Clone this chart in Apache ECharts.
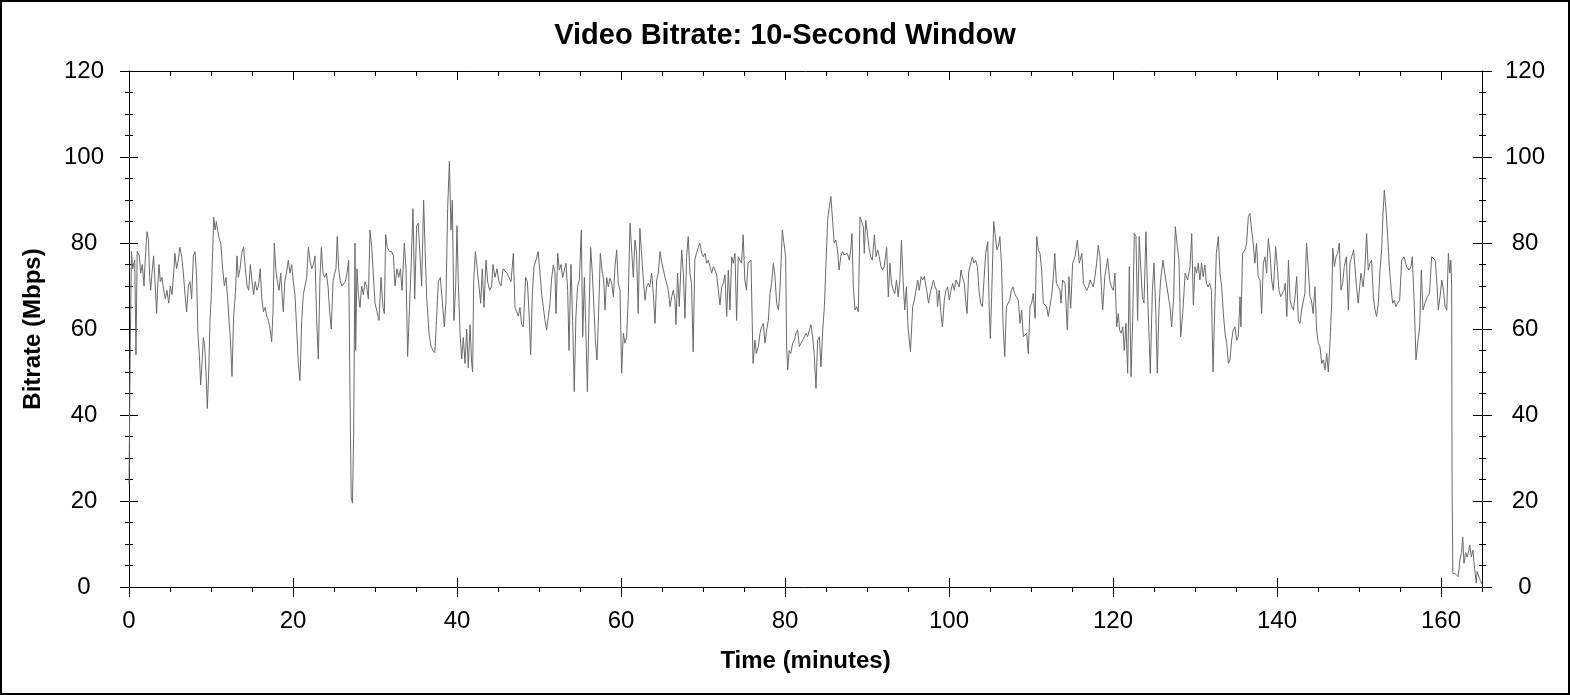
<!DOCTYPE html>
<html>
<head>
<meta charset="utf-8">
<script src="https://cdn.jsdelivr.net/npm/echarts@6.0.0/dist/echarts.min.js"></script>
<style>
html,body{margin:0;padding:0;background:#fff;}
#chart{width:1570px;height:695px;}
</style>
</head>
<body>
<div id="chart"></div>
<script>
// ---- data: [time (minutes), bitrate (Mbps)] ----
const segA = [[0,24],[0.15,55],[0.3,78],[0.45,74],[0.7,76],[0.85,54],[1.0,78],[1.26,77],[1.42,73],[1.63,75],[1.83,70],[2.03,78],[2.2,82.6],[2.36,81],[2.52,72],[2.64,69],[2.8,73],[3.0,77],[3.2,70],[3.37,63.6],[3.5,70],[3.66,75],[3.82,71],[4.02,72],[4.23,69],[4.43,67],[4.63,69],[4.84,66],[5.04,70],[5.24,68],[5.45,73],[5.6,77.6],[5.8,74],[6.0,76],[6.2,79],[6.42,77],[6.63,73],[6.83,68],[7.03,64],[7.24,70],[7.44,71],[7.64,67],[7.85,77],[8.05,78],[8.25,72],[8.4,59],[8.58,54],[8.74,47],[8.9,52],[9.07,58],[9.23,56],[9.39,50],[9.55,41.5],[9.72,50],[9.88,62],[10.04,68],[10.2,78],[10.33,86],[10.5,83],[10.65,85],[10.8,83],[11.0,81],[11.2,80],[11.42,74],[11.63,70],[11.83,72],[12.03,67],[12.2,62],[12.36,58],[12.56,49],[12.76,63],[12.97,68],[13.17,77],[13.33,72],[13.54,74],[13.78,78],[13.98,79],[14.19,74],[14.4,70],[14.6,69],[14.8,75],[15.0,71],[15.2,68],[15.4,71],[15.6,69],[15.8,70],[16.0,74],[16.2,67],[16.4,64],[16.6,65],[16.8,63],[17.0,62],[17.2,60],[17.4,57],[17.56,64],[17.72,80],[17.9,74],[18.1,71],[18.3,69],[18.5,73],[18.7,67],[18.82,64],[19.0,71],[19.2,73],[19.43,76],[19.63,73],[19.84,75],[20.04,71],[20.24,68],[20.45,60],[20.65,52],[20.85,48],[21.06,62],[21.26,68],[21.46,70],[21.67,72],[21.87,79],[22.07,76],[22.28,74],[22.48,75],[22.68,77],[22.89,62],[23.09,53],[23.29,72],[23.46,79],[23.66,73],[23.86,72],[24.07,73],[24.27,70],[24.47,64],[24.67,60],[24.88,71],[25.08,73],[25.24,74],[25.4,81.5],[25.57,74],[25.77,71],[25.98,70],[26.18,70],[26.38,71],[26.59,73],[26.79,76],[26.95,45],[27.1,21],[27.25,19.5],[27.4,36],[27.56,80],[27.64,55],[27.8,74],[27.97,68]];
const segB = [[28.17,65],[28.37,70],[28.58,68],[28.78,71],[28.98,70],[29.19,67],[29.39,83],[29.6,79],[29.8,79],[30.0,66],[30.2,64.4],[30.49,62],[30.73,72],[30.98,65],[31.14,63.6],[31.3,82],[31.5,79],[31.75,78],[32.03,78],[32.24,77],[32.44,70],[32.68,74],[32.89,72],[33.1,74],[33.3,69],[33.58,80],[33.78,74],[33.98,53.6],[34.19,64],[34.43,76],[34.63,88],[34.84,67],[35.08,84],[35.28,84.6],[35.49,77],[35.69,70],[35.93,90],[36.1,79],[36.3,67.5],[36.59,59],[36.83,56],[37.07,55],[37.3,54.5],[37.5,62],[37.72,71],[37.97,72],[38.2,72],[38.46,60.5],[38.66,67],[38.86,88],[39.07,99],[39.27,83],[39.43,90],[39.63,62],[39.84,70],[40.0,84],[40.16,71],[40.37,59],[40.57,53],[40.77,58],[40.98,52],[41.18,60],[41.38,51],[41.59,61],[41.79,52],[41.91,50],[42.03,71],[42.24,78],[42.44,78],[42.68,70],[42.89,66],[43.09,74],[43.29,65],[43.54,76],[43.74,71],[43.98,69],[44.23,70],[44.39,75],[44.63,72],[44.88,74],[45.12,71],[45.37,70],[45.61,74],[45.85,74],[46.1,73],[46.34,72],[46.59,71],[46.87,77.6],[47.07,65],[47.28,64],[47.48,63],[47.68,65],[47.89,61],[48.09,60.5],[48.37,72],[48.58,71],[48.78,64],[48.98,54],[49.19,68],[49.39,74.5],[49.63,76],[49.88,78],[50.08,74],[50.33,68],[50.53,65],[50.73,62],[50.93,59.8]];
const segC = [[51.14,62.9],[51.34,66],[51.54,71.8],[51.75,74.9],[51.95,73],[52.07,63.6],[52.28,77.6],[52.48,73.7],[52.68,75],[52.89,72],[53.09,73.7],[53.29,75.3],[53.5,69],[53.66,55],[53.9,75],[54.1,62],[54.3,45.4],[54.5,62.9],[54.7,69.8],[54.92,71.4],[55.16,83],[55.33,58.2],[55.53,72],[55.69,61.3],[55.9,45.4],[56.1,63.6],[56.3,79],[56.5,73],[56.7,65],[56.87,57.4],[57.07,52.8],[57.28,64.4],[57.48,77.6],[57.68,73.7],[57.89,71.4],[58.05,64.4],[58.25,72],[58.46,69.8],[58.66,71.8],[58.86,70.6],[59.07,67.5],[59.27,74.5],[59.47,78.4],[59.67,70.6],[59.88,69],[60.08,49.7],[60.28,59],[60.49,56.7],[60.69,58.2],[60.89,67.5],[61.1,84.6],[61.3,85],[61.5,72],[61.7,80.7],[61.9,77.6],[62.1,63.6],[62.3,83.4],[62.5,83],[62.7,72],[62.93,66.7],[63.13,69.8],[63.33,70.6],[63.5,69.8],[63.74,73],[63.94,68.3],[64.15,61.3],[64.35,71.4],[64.55,73],[64.76,78],[64.96,75.6],[65.16,75.3],[65.37,72],[65.57,70.6],[65.77,69],[65.98,65.2],[66.18,67.5],[66.38,69],[66.59,66.7],[66.7,61],[66.9,73],[67.1,65.2],[67.4,78.4],[67.6,73],[67.8,62.5],[68.0,76.8],[68.2,81.5],[68.4,73],[68.6,70.6],[68.8,54.7],[69.0,76],[69.2,77.6],[69.43,79],[69.6,80],[69.84,77.6],[70.04,76.8],[70.24,77.6],[70.45,75.3],[70.65,76],[70.85,74.5],[71.06,73],[71.26,74.5],[71.46,73.7],[71.67,72.6],[71.87,69],[72.07,65.6],[72.28,69.8],[72.48,70.6],[72.68,72.6],[72.89,62.9],[73.09,73.7],[73.29,64.4],[73.5,76.8],[73.7,75.3],[73.9,77.6]];
const segD = [[74.1,62],[74.3,76.8],[74.5,76],[74.7,75.3],[74.9,81.9],[75.1,71.4],[75.3,69],[75.5,75.3],[75.7,75.7],[75.85,76],[76.0,62],[76.1,52],[76.34,57.4],[76.5,54.3],[76.75,55.9],[76.95,59],[77.15,60.5],[77.36,61.3],[77.56,56.7],[77.76,59.8],[77.97,62],[78.17,68.3],[78.37,70.6],[78.58,75.3],[78.78,72.2],[78.98,66],[79.2,64.4],[79.4,69.8],[79.67,83],[79.9,83.4],[80.08,76.8],[80.2,55.9],[80.33,50.5],[80.5,55],[80.7,54.3],[80.93,56.7],[81.14,57.4],[81.34,59],[81.54,59.8],[81.75,55.9],[81.95,56.7],[82.15,57.4],[82.36,58.2],[82.56,59],[82.76,58.2],[82.97,59.8],[83.17,61],[83.37,58.2],[83.58,53.6],[83.78,46.2],[83.98,57.4],[84.19,58.2],[84.39,51.2],[84.6,59.8],[84.8,65.2],[85.0,75.3],[85.2,85.3],[85.4,88.4],[85.6,90.8],[85.8,85.3],[86.0,80],[86.2,80.7],[86.4,78.4],[86.6,73.7],[86.8,76.8],[87.0,78],[87.2,77.2],[87.4,76.8],[87.6,77.6],[87.85,76],[88.05,79],[88.17,82.2],[88.33,69.8],[88.54,64.4],[88.74,65.2],[88.94,64],[89.15,86.1],[89.35,86.1],[89.55,83.8],[89.67,77.6],[89.84,85.3],[90.0,83],[90.24,79],[90.45,76.8],[90.65,76],[90.9,81.9],[91.1,76.8],[91.3,78.4],[91.5,76.8],[91.7,74.5],[91.9,73.7],[92.1,74.5],[92.4,79],[92.6,67.5],[92.8,75.3],[93.0,70.6],[93.2,69],[93.4,68.3],[93.6,71.4],[93.8,67.5],[94.0,71.4],[94.2,80.7],[94.4,71.4],[94.6,64.4],[94.8,69.8],[95.0,60.5],[95.3,54.7],[95.57,65.2],[95.77,66.7],[95.98,69],[96.18,71.4],[96.38,69],[96.6,72.2],[96.8,71.4],[97.0,72.2]];
const segE = [[97.28,69],[97.5,66],[97.7,68.3],[97.9,67.9],[98.1,71.4],[98.3,69.8],[98.5,69],[98.6,65.2],[98.8,69],[99.02,63.6],[99.2,60.5],[99.43,66.7],[99.63,69],[99.84,69.8],[100.04,66.7],[100.24,69],[100.45,70.6],[100.65,69],[100.85,71.4],[101.06,71.8],[101.26,69.8],[101.46,73.7],[101.67,71.8],[101.87,70.6],[102.03,66.7],[102.2,63.6],[102.4,73.3],[102.6,73.7],[102.85,76.8],[103.05,75.3],[103.25,76],[103.46,74.5],[103.66,69],[103.86,66],[104.07,65.2],[104.27,71.4],[104.47,77.6],[104.72,80.3],[104.9,65.2],[105.04,57.8],[105.2,67.5],[105.45,85],[105.65,81.5],[105.85,78.4],[106.06,79.5],[106.2,81.5],[106.4,75.3],[106.6,60.5],[106.8,53.6],[107.0,65.2],[107.2,65.6],[107.4,66.7],[107.6,69],[107.8,69.8],[108.0,68.3],[108.2,67.5],[108.46,66.7],[108.66,61.3],[108.86,64.4],[109.07,58.2],[109.27,58.2],[109.47,59],[109.67,54.3],[109.88,65.2],[110.08,66],[110.28,68.3],[110.5,62.5],[110.7,81.5],[110.9,78.4],[111.1,77.6],[111.3,73.7],[111.5,66],[111.7,65.6],[111.9,65.2],[112.1,62.9],[112.3,65.2],[112.5,67.5],[112.7,71.4],[112.9,77.6],[113.1,70.6],[113.33,69.8],[113.54,69],[113.66,66],[113.86,71.4],[114.15,70.6],[114.43,59.8],[114.63,72.2],[114.84,64.8],[115.08,75.3],[115.37,76.8],[115.65,80.7],[115.9,75.3],[116.2,77.6],[116.4,70.6],[116.6,69.8],[116.8,69],[117.0,69.8],[117.2,71.4],[117.4,70.6],[117.6,69.8],[117.8,72.2],[118.0,75.3],[118.2,79.5],[118.4,76.8],[118.6,69],[118.74,64.4],[119.0,72.2],[119.35,76.4],[119.6,71.4],[119.8,69.8],[120.04,69],[120.24,73]];
const segF = [[120.45,60.5],[120.65,63.6],[120.8,59.8],[121.0,59],[121.2,60.5],[121.38,55],[121.58,61.3],[121.79,49.7],[121.99,74.5],[122.2,48.9],[122.4,62],[122.6,82.2],[122.8,81.5],[123.0,62],[123.2,81.5],[123.4,73.7],[123.58,67.5],[123.78,66],[124.02,82.6],[124.23,67.5],[124.43,56.7],[124.55,49.7],[124.8,69],[125.0,75.3],[125.24,62.9],[125.4,49.7],[125.6,64.4],[125.8,71.4],[126.1,76],[126.3,73],[126.5,73.3],[126.7,68.3],[126.95,65.2],[127.15,60.5],[127.4,67.5],[127.6,83.8],[127.85,79.1],[128.05,76],[128.25,58.2],[128.5,63.6],[128.8,73],[129.1,71.4],[129.4,74.5],[129.6,82.2],[129.8,65.6],[130.0,74.5],[130.2,73],[130.4,75.3],[130.6,71.4],[130.8,75.3],[131.0,72.2],[131.2,74.9],[131.4,70.6],[131.6,69.8],[131.8,70.6],[132.0,69],[132.2,50],[132.4,64.4],[132.6,77.6],[132.85,81.5],[133.05,73],[133.25,69.8],[133.46,63.6],[133.66,59],[133.86,56.7],[134.07,52],[134.27,52.8],[134.47,57.4],[134.67,59.8],[134.88,60.5],[135.08,57.4],[135.28,58.2],[135.49,67.5],[135.6,60.5],[135.8,77.6],[136.1,78.4],[136.3,80],[136.5,86.1],[136.7,86.9],[136.9,83],[137.1,80],[137.3,75.3],[137.5,80],[137.7,72.2],[137.93,71.4],[138.13,63.6],[138.33,75.3],[138.54,76.8],[138.74,73],[138.94,81],[139.15,77.6],[139.35,71.4],[139.55,69],[139.84,79.1],[140.04,74.5],[140.24,69],[140.45,67.5],[140.65,68.3],[140.85,69],[141.0,70.6],[141.2,62.9],[141.4,76],[141.6,66.7],[141.8,65.2],[142.0,64.4],[142.2,67.5],[142.4,72.2],[142.6,62],[142.8,61.3],[143.0,64.4],[143.2,64.4],[143.4,68.3],[143.6,80]];
const segG = [[143.8,74.5],[144.02,67.5],[144.2,66.7],[144.4,63.6],[144.63,69.8],[144.83,59.8],[145.04,56.7],[145.24,55.9],[145.45,52],[145.65,52.8],[145.85,50.5],[146.06,54.3],[146.26,50],[146.46,56.7],[146.67,66],[146.8,78.8],[147.0,74.5],[147.2,76.8],[147.4,77.6],[147.6,80],[147.8,69],[148.0,70.6],[148.2,74.5],[148.46,76.8],[148.7,64.4],[148.9,75.3],[149.1,76.8],[149.35,78.4],[149.5,74.5],[149.7,69.8],[149.9,66],[150.24,73],[150.5,69.8],[150.7,73.7],[150.93,82.2],[151.13,73.7],[151.34,75.3],[151.54,76],[151.75,67.5],[151.95,64.4],[152.15,62.9],[152.36,66],[152.56,73.7],[152.76,78.4],[152.93,86.9],[153.09,92.3],[153.29,87.7],[153.5,81.5],[153.7,74.5],[153.9,69.8],[154.1,66],[154.3,66.7],[154.5,65.2],[154.7,66],[154.96,66.7],[155.2,76],[155.5,76.8],[155.8,74.5],[156.1,73.7],[156.34,74.5],[156.5,76.8],[156.75,65.2],[156.95,52.8],[157.15,56.7],[157.4,60.5],[157.6,73.7],[157.8,64.4],[158.05,66],[158.33,67.5],[158.6,68.3],[158.86,76.8],[159.1,76.8],[159.3,76],[159.5,70.6],[159.67,64.4],[159.88,67.5],[160.1,71.4],[160.3,69],[160.5,65.2],[160.7,64.4],[160.9,77.6],[161.07,73],[161.2,76],[161.3,70],[161.35,24],[161.45,3.2],[161.8,3.0],[162.1,2.4],[162.3,6.3],[162.5,8],[162.65,11.6],[162.8,5.5],[163.0,8],[163.2,7],[163.4,8.5],[163.5,9.8],[163.7,7],[163.9,8.6],[164.0,6],[164.3,0.9],[164.4,3.6],[164.6,4],[164.8,1.5],[164.95,0.8]];

const xTickValues = [0, 20, 40, 60, 80, 100, 120, 140, 160];
const yTickValues = [0, 20, 40, 60, 80, 100, 120];
const titleText = 'Video Bitrate: 10-Second Window';
const xName = 'Time (minutes)';
const yName = 'Bitrate (Mbps)';

const bitrate = [].concat(segA, segB, segC, segD, segE, segF, segG);

const FONT = "'Liberation Sans', Arial, sans-serif";
const BLACK = '#000';

function xAx(extra) {
  return Object.assign({
    type: 'value', min: 0, max: 165, gridIndex: 0,
    splitLine: { show: false },
    axisLine: { show: false, onZero: false, lineStyle: { color: BLACK, width: 1 } },
    axisTick: { show: false },
    axisLabel: { show: false },
    minorTick: { show: false }
  }, extra);
}
function yAx(extra) {
  return Object.assign({
    type: 'value', min: 0, max: 120, interval: 20, gridIndex: 0,
    splitLine: { show: false },
    axisLine: { show: false, onZero: false, lineStyle: { color: BLACK, width: 1 } },
    axisTick: { show: false },
    axisLabel: { show: false },
    minorTick: { show: false }
  }, extra);
}
const tickStyle = { color: BLACK, width: 1 };
const labelStyle = { show: true, color: BLACK, fontSize: 24, fontFamily: FONT };

const chart = echarts.init(document.getElementById('chart'), null, { renderer: 'canvas' });
chart.setOption({
  animation: false,
  backgroundColor: '#fff',
  title: {
    text: titleText, left: 'center', top: 21, padding: 0,
    textStyle: { fontFamily: FONT, fontSize: 29, fontWeight: 'bold', color: BLACK }
  },
  grid: { left: 129, right: 88, top: 71, bottom: 108 },
  xAxis: [
    xAx({
      position: 'bottom', interval: 20,
      axisLine: { show: true, onZero: false, lineStyle: { color: BLACK, width: 1 } },
      axisTick: { show: true, inside: false, length: 10, lineStyle: tickStyle, customValues: xTickValues },
      axisLabel: Object.assign({}, labelStyle, { margin: 22, customValues: xTickValues }),
      name: xName, nameLocation: 'middle', nameGap: 62,
      nameTextStyle: { fontFamily: FONT, fontSize: 24, fontWeight: 'bold', color: BLACK }
    }),
    xAx({ position: 'bottom', interval: 20,
      axisTick: { show: true, inside: true, length: 9, lineStyle: tickStyle, customValues: xTickValues } }),
    xAx({ position: 'bottom', interval: 5,
      axisTick: { show: true, inside: false, length: 5, lineStyle: tickStyle } }),
    xAx({ position: 'top', interval: 20,
      axisLine: { show: true, onZero: false, lineStyle: { color: BLACK, width: 1 } },
      axisTick: { show: true, inside: true, length: 9, lineStyle: tickStyle, customValues: xTickValues } }),
    xAx({ position: 'top', interval: 5,
      axisTick: { show: true, inside: true, length: 5, lineStyle: tickStyle } })
  ],
  yAxis: [
    yAx({
      position: 'left',
      axisLine: { show: true, onZero: false, lineStyle: { color: BLACK, width: 1 } },
      axisTick: { show: true, inside: false, length: 9, lineStyle: tickStyle },
      minorTick: { show: true, splitNumber: 4, length: 4, lineStyle: tickStyle },
      axisLabel: Object.assign({}, labelStyle, { margin: 45, align: 'center', customValues: yTickValues }),
      name: yName, nameLocation: 'middle', nameGap: 84, nameRotate: 90,
      nameTextStyle: { fontFamily: FONT, fontSize: 24, fontWeight: 'bold', color: BLACK }
    }),
    yAx({ position: 'left',
      axisTick: { show: true, inside: true, length: 9, lineStyle: tickStyle },
      minorTick: { show: true, splitNumber: 4, length: 4, lineStyle: tickStyle } }),
    yAx({
      position: 'right',
      axisLine: { show: true, onZero: false, lineStyle: { color: BLACK, width: 1 } },
      axisTick: { show: true, inside: false, length: 10, lineStyle: tickStyle },
      minorTick: { show: true, splitNumber: 4, length: 4, lineStyle: tickStyle },
      axisLabel: Object.assign({}, labelStyle, { margin: 43, align: 'center', customValues: yTickValues })
    }),
    yAx({ position: 'right',
      axisTick: { show: true, inside: true, length: 9, lineStyle: tickStyle },
      minorTick: { show: true, splitNumber: 4, length: 3, lineStyle: tickStyle } })
  ],
  series: [{
    type: 'line', xAxisIndex: 0, yAxisIndex: 0,
    data: bitrate, showSymbol: false, symbol: 'none', smooth: false,
    lineStyle: { color: '#6a6a6a', width: 1 }, itemStyle: { color: '#6a6a6a' },
    silent: true, z: 1
  }],
  graphic: [{
    type: 'rect', silent: true, z: 100,
    shape: { x: 1, y: 1, width: 1568, height: 693 },
    style: { fill: 'none', stroke: BLACK, lineWidth: 2 }
  }]
});
</script>
</body>
</html>
